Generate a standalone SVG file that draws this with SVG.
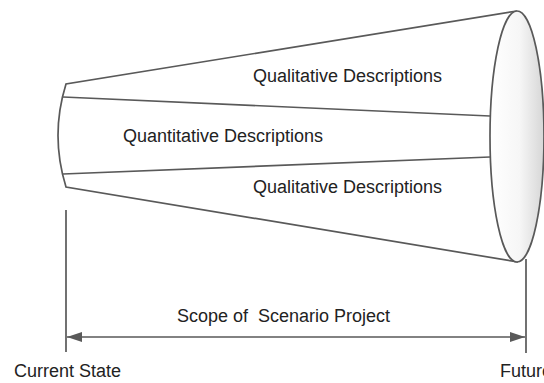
<svg xmlns="http://www.w3.org/2000/svg" width="544" height="383" viewBox="0 0 544 383">
  <style>
    .ln { fill: none; stroke: #595959; stroke-width: 1.7; }
    .lbl { font-family: "Liberation Sans", Arial, sans-serif; font-size: 18px; fill: #222222; white-space: pre; }
  </style>
  <defs>
    <linearGradient id="mouth" x1="0" y1="0" x2="1" y2="0">
      <stop offset="0" stop-color="#ffffff"/>
      <stop offset="0.55" stop-color="#f6f6f6"/>
      <stop offset="1" stop-color="#d6d6d6"/>
    </linearGradient>
    <marker id="tip" viewBox="0 0 15 10" refX="15" refY="5" markerWidth="15" markerHeight="10" markerUnits="userSpaceOnUse" orient="auto-start-reverse">
      <path d="M0,0 L15,5 L0,10 Z" fill="#595959"/>
    </marker>
  </defs>
  <rect width="544" height="383" fill="#ffffff"/>

  <!-- funnel body -->
  <g id="funnel">
    <path class="ln" d="M517,11 L66,84 Q50,135.5 66,187 L518,262" fill="#ffffff"/>
    <ellipse id="mouth-end" cx="517" cy="136.5" rx="27" ry="125.5" fill="url(#mouth)" stroke="#595959" stroke-width="1.7"/>
  </g>

  <!-- band dividers -->
  <g id="dividers">
    <line class="ln" x1="63" y1="97" x2="490" y2="116"/>
    <line class="ln" x1="63" y1="174" x2="490" y2="157"/>
  </g>

  <g id="band-top"><text class="lbl" x="253" y="82">Qualitative Descriptions</text></g>
  <g id="band-middle"><text class="lbl" x="123" y="142">Quantitative Descriptions</text></g>
  <g id="band-bottom"><text class="lbl" x="253" y="193">Qualitative Descriptions</text></g>

  <!-- scope markers and span arrow -->
  <g id="connectors">
    <line class="ln" x1="66" y1="210" x2="66" y2="352"/>
    <line class="ln" x1="526" y1="259" x2="526" y2="353"/>
    <line class="ln" x1="67" y1="337" x2="525" y2="337" marker-start="url(#tip)" marker-end="url(#tip)"/>
  </g>

  <g id="scope"><text class="lbl" x="177" y="322">Scope of  Scenario Project</text></g>
  <g id="current"><text class="lbl" x="14" y="377">Current State</text></g>
  <g id="future"><text class="lbl" x="500" y="377">Future</text></g>
</svg>
